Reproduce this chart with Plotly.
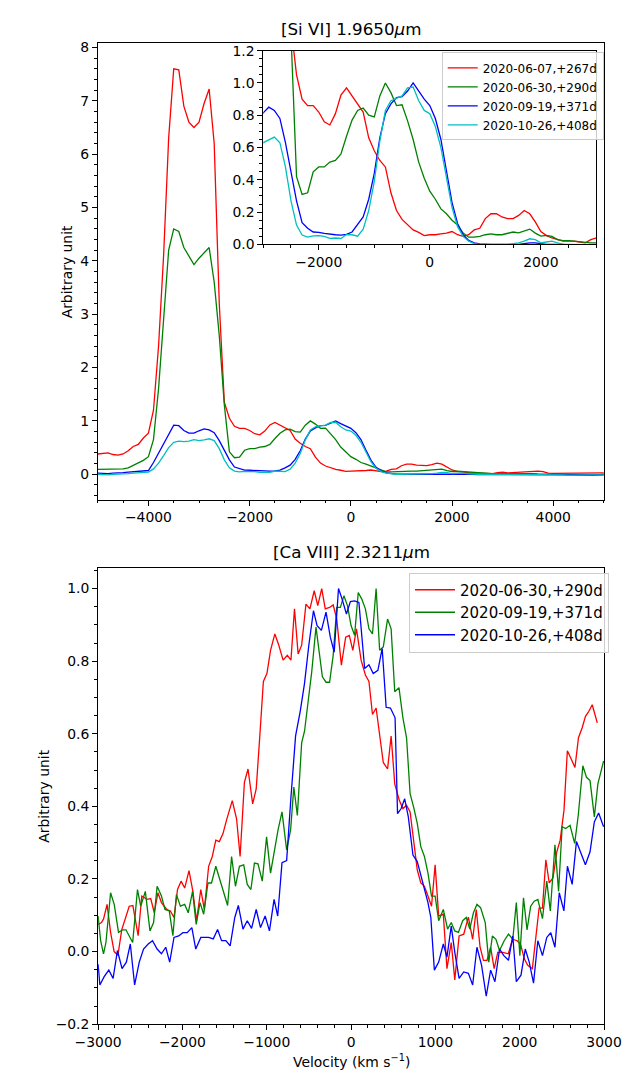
import plotly.graph_objects as go

# ---------------- data: [Si VI] 1.9650 um (top panel + inset) ----------------
V_SI = [-5000, -4900, -4800, -4700, -4600, -4500, -4400, -4300, -4200, -4100,
        -4000, -3900, -3800, -3700, -3600, -3500, -3400, -3300, -3200, -3100,
        -3000, -2900, -2800, -2700, -2600, -2500, -2400, -2300, -2200, -2100,
        -2000, -1900, -1800, -1700, -1600, -1500, -1400, -1300, -1200, -1100,
        -1000, -900, -800, -700, -600, -500, -400, -300, -200, -100,
        0, 100, 200, 300, 400, 500, 600, 700, 800, 900,
        1000, 1100, 1200, 1300, 1400, 1500, 1600, 1700, 1800, 1900,
        2000, 2100, 2200, 2300, 2400, 2500, 2600, 2700, 2800, 2900,
        3000, 3100, 3200, 3300, 3400, 3500, 3600, 3700, 3800, 3900,
        4000, 4100, 4200, 4300, 4400, 4500, 4600, 4700, 4800, 4900,
        5000]

SI_20200607 = [0.38, 0.39, 0.40, 0.37, 0.36, 0.38, 0.44, 0.52, 0.56, 0.68,
               0.77, 1.2, 2.4, 4.1, 6.3, 7.6, 7.58, 6.9, 6.6, 6.5,
               6.6, 6.95, 7.22, 6.2, 3.2, 1.35, 1.05, 0.9, 0.86, 0.86,
               0.82, 0.76, 0.74, 0.81, 0.925, 0.97, 0.92, 0.865, 0.82, 0.66,
               0.58, 0.52, 0.48, 0.32, 0.21, 0.155, 0.125, 0.09, 0.075, 0.055,
               0.06, 0.06, 0.065, 0.07, 0.08, 0.06, 0.05, 0.06, 0.09, 0.10,
               0.16, 0.19, 0.19, 0.17, 0.16, 0.16, 0.18, 0.21, 0.19, 0.14,
               0.08, 0.055, 0.04, 0.03, 0.02, 0.02, 0.02, 0.015, 0.01, 0.03,
               0.04, 0.025, 0.03, 0.035, 0.04, 0.05, 0.055, 0.06, 0.05, 0.02,
               0.015, 0.015, 0.015, 0.015, 0.015, 0.02, 0.02, 0.025, 0.02, 0.02,
               0.025]

SI_20200630 = [0.09, 0.09, 0.09, 0.10, 0.10, 0.10, 0.12, 0.17, 0.22, 0.26,
               0.33, 0.65, 1.6, 3.0, 4.2, 4.6, 4.55, 4.25, 4.1, 3.93,
               4.05, 4.15, 4.25, 3.6, 2.6, 1.3, 0.42, 0.31, 0.32, 0.45,
               0.48, 0.48, 0.51, 0.52, 0.56, 0.67, 0.77, 0.83, 0.845, 0.80,
               0.79, 0.92, 1.0, 0.94, 0.86, 0.865, 0.765, 0.65, 0.51, 0.41,
               0.33, 0.28, 0.22, 0.19, 0.15, 0.12, 0.07, 0.045, 0.045, 0.05,
               0.06, 0.065, 0.06, 0.06, 0.067, 0.077, 0.072, 0.082, 0.095, 0.07,
               0.052, 0.056, 0.05, 0.03, 0.024, 0.024, 0.02, 0.015, 0.012, 0.01,
               0.01, 0.01, 0.015, 0.02, 0.015, 0.01, 0.01, 0.005, 0.0, 0.0,
               0.0, 0.0, -0.005, -0.01, -0.015, -0.02, -0.025, -0.02, -0.02, -0.01,
               0.0]

SI_20200919 = [0.02, 0.015, 0.01, 0.02, 0.02, 0.03, 0.04, 0.05, 0.05, 0.06,
               0.07, 0.22, 0.40, 0.57, 0.76, 0.92, 0.91, 0.82, 0.77, 0.77,
               0.815, 0.85, 0.83, 0.78, 0.63, 0.45, 0.27, 0.135, 0.10, 0.077,
               0.075, 0.068, 0.062, 0.06, 0.058, 0.062, 0.077, 0.12, 0.17, 0.28,
               0.44, 0.66, 0.81, 0.87, 0.91, 0.915, 0.95, 1.0, 0.95, 0.90,
               0.86, 0.78, 0.65, 0.45, 0.26, 0.13, 0.06, 0.025, 0.01, 0.004,
               0.0, 0.0, 0.0, 0.0, 0.0, 0.0, 0.0, 0.005, 0.01, 0.01,
               0.005, 0.0, 0.0, 0.0, 0.0, -0.005, -0.005, -0.005, -0.005, -0.005,
               -0.005, -0.01, -0.01, -0.01, -0.01, -0.01, -0.01, -0.01, -0.01, -0.01,
               -0.01, -0.01, -0.01, -0.01, -0.01, -0.01, -0.01, -0.01, -0.01, -0.01,
               -0.01]

SI_20201026 = [0.0, -0.01, -0.01, 0.0, 0.0, 0.01, 0.01, 0.02, 0.03, 0.03,
               0.04, 0.10, 0.21, 0.35, 0.50, 0.60, 0.62, 0.61, 0.62, 0.65,
               0.63, 0.645, 0.665, 0.63, 0.48, 0.27, 0.12, 0.058, 0.045, 0.053,
               0.055, 0.05, 0.038, 0.04, 0.037, 0.061, 0.06, 0.051, 0.095, 0.21,
               0.39, 0.64, 0.83, 0.89, 0.905, 0.92, 0.97, 0.975, 0.89, 0.83,
               0.81, 0.73, 0.60, 0.41, 0.23, 0.11, 0.05, 0.02, 0.005, 0.0,
               0.0, 0.0, 0.0, 0.0, 0.0, 0.005, 0.01, 0.02, 0.035, 0.03,
               0.01, 0.015, 0.02, 0.01, 0.0, 0.0, 0.0, 0.0, 0.0, 0.0,
               0.0, -0.005, -0.005, -0.005, -0.005, -0.005, -0.005, -0.005, -0.005, -0.005,
               -0.005, -0.01, -0.01, -0.015, -0.015, -0.02, -0.02, -0.02, -0.02, -0.015,
               -0.01]

SI_LABELS = ["2020-06-07,+267d", "2020-06-30,+290d", "2020-09-19,+371d", "2020-10-26,+408d"]
SI_COLORS = ["#ff0000", "#008000", "#0000ff", "#00bfbf"]

# ---------------- data: [Ca VIII] 2.3211 um (bottom panel) ----------------
V_CA_0630 = [-3000, -2960, -2935, -2894, -2852, -2810, -2765, -2720, -2673, -2631,
             -2588, -2525, -2482, -2419, -2376, -2334, -2291, -2249, -2185, -2143,
             -2100, -2058, -2016, -1973, -1922, -1876, -1833, -1782, -1740, -1689,
             -1646, -1604, -1562, -1519, -1477, -1409, -1358, -1316, -1265, -1222,
             -1167, -1125, -1082, -1040, -998, -955, -904, -857, -806, -756,
             -713, -671, -628, -586, -535, -488, -437, -395, -348, -306,
             -255, -212, -170, -115, -64, -21, 21, 64, 119, 170,
             212, 254, 297, 339, 382, 433, 475, 518, 573, 615,
             658, 700, 742, 785, 827, 870, 912, 954, 997, 1039,
             1094, 1137, 1188, 1230, 1281, 1336, 1391, 1442, 1485, 1530,
             1570, 1612, 1655, 1697, 1740, 1800, 1865, 1915, 1970, 2010,
             2055, 2095, 2150, 2190, 2230, 2270, 2310, 2350, 2395, 2440,
             2480, 2525, 2565, 2612, 2655, 2697, 2740, 2780, 2820, 2860,
             2920]
CA_20200630 = [0.075, 0.08, 0.09, 0.13, 0.053, 0.0, -0.01, 0.06, 0.094, 0.125,
               0.127, 0.044, 0.153, 0.144, 0.146, 0.107, 0.162, 0.135, 0.116, 0.112,
               0.094, 0.171, 0.194, 0.175, 0.223, 0.166, 0.085, 0.171, 0.116, 0.235,
               0.262, 0.307, 0.303, 0.325, 0.362, 0.416, 0.366, 0.262, 0.466, 0.503,
               0.407, 0.448, 0.595, 0.744, 0.766, 0.83, 0.875, 0.844, 0.803, 0.816,
               0.803, 0.944, 0.82, 0.844, 0.957, 0.944, 0.994, 0.953, 1.0, 0.944,
               0.948, 0.955, 0.916, 0.789, 0.866, 0.871, 0.83, 0.889, 0.803, 0.762,
               0.744, 0.653, 0.671, 0.598, 0.521, 0.503, 0.594, 0.462, 0.416, 0.394,
               0.403, 0.385, 0.298, 0.225, 0.189, 0.18, 0.153, 0.125, 0.239, 0.098,
               0.103, -0.047, 0.025, -0.078, 0.043, 0.048, 0.095, 0.034, 0.116, 0.012,
               -0.024, -0.024, 0.012, -0.047, -0.002, -0.002, -0.006, 0.034, 0.03, 0.02,
               -0.02, -0.038, -0.047, 0.034, 0.12, 0.12, 0.253, 0.189, 0.203, 0.275,
               0.307, 0.389, 0.553, 0.53, 0.507, 0.589, 0.616, 0.648, 0.662, 0.68,
               0.63]

V_CA_0919 = [-3000, -2970, -2936, -2907, -2852, -2809, -2758, -2707, -2670, -2631,
             -2590, -2533, -2495, -2440, -2385, -2342, -2300, -2249, -2207, -2156,
             -2113, -2071, -2024, -1973, -1931, -1880, -1837, -1791, -1748, -1697,
             -1655, -1604, -1557, -1506, -1464, -1417, -1371, -1324, -1273, -1231,
             -1188, -1146, -1104, -1053, -1002, -955, -908, -866, -819, -764,
             -717, -679, -637, -586, -552, -510, -467, -416, -382, -340,
             -297, -255, -212, -170, -127, -85, -43, 0, 42, 85,
             127, 170, 212, 254, 297, 339, 382, 433, 475, 518,
             568, 615, 658, 700, 742, 785, 827, 870, 912, 954,
             997, 1039, 1094, 1145, 1188, 1230, 1273, 1324, 1366, 1408,
             1451, 1493, 1536, 1591, 1633, 1676, 1718, 1761, 1816, 1867,
             1918, 1960, 2002, 2045, 2087, 2130, 2172, 2215, 2270, 2321,
             2363, 2418, 2461, 2503, 2546, 2597, 2652, 2694, 2749, 2792,
             2834, 2885, 2927, 2995]
CA_20200919 = [0.098, 0.03, -0.006, 0.025, 0.162, 0.13, 0.053, 0.06, 0.06, 0.044,
               0.025, 0.171, 0.125, 0.166, 0.057, 0.08, 0.18, 0.153, 0.116, 0.112,
               0.044, 0.157, 0.125, 0.13, 0.107, 0.166, 0.075, 0.135, 0.103, 0.189,
               0.189, 0.235, 0.198, 0.153, 0.127, 0.262, 0.18, 0.235, 0.239, 0.185,
               0.171, 0.244, 0.242, 0.194, 0.316, 0.216, 0.28, 0.335, 0.385, 0.28,
               0.335, 0.453, 0.375, 0.575, 0.607, 0.68, 0.77, 0.894, 0.835, 0.757,
               0.742, 0.742, 0.816, 0.948, 0.948, 0.98, 0.953, 0.898, 0.871, 0.989,
               0.971, 0.944, 0.889, 0.875, 1.0, 0.83, 0.839, 0.916, 0.889, 0.716,
               0.727, 0.644, 0.589, 0.435, 0.398, 0.353, 0.289, 0.262, 0.216, 0.153,
               0.153, 0.085, 0.116, 0.062, 0.08, 0.057, 0.053, 0.085, 0.094, 0.062,
               0.107, 0.13, 0.121, 0.08, -0.029, 0.043, 0.034, 0.003, 0.03, 0.048,
               0.034, 0.135, -0.011, 0.148, 0.06, 0.125, 0.139, 0.144, 0.091, 0.194,
               0.112, 0.294, 0.166, 0.344, 0.339, 0.348, 0.298, 0.375, 0.512, 0.48,
               0.471, 0.371, 0.462, 0.525]

V_CA_1026 = [-3000, -2979, -2928, -2873, -2822, -2771, -2716, -2665, -2618, -2567,
             -2512, -2461, -2406, -2355, -2300, -2249, -2198, -2151, -2100, -2045,
             -1994, -1943, -1888, -1842, -1782, -1740, -1689, -1634, -1583, -1536,
             -1485, -1434, -1379, -1337, -1282, -1231, -1180, -1125, -1074, -1019,
             -968, -913, -870, -819, -764, -713, -658, -603, -552, -501,
             -446, -403, -352, -297, -246, -200, -149, -106, -55, -8,
             42, 93, 161, 212, 263, 318, 369, 416, 467, 522,
             551, 594, 636, 679, 734, 785, 827, 870, 912, 946,
             988, 1039, 1094, 1137, 1188, 1230, 1281, 1336, 1391, 1442,
             1493, 1548, 1603, 1655, 1706, 1761, 1812, 1867, 1918, 1960,
             2015, 2066, 2113, 2164, 2215, 2270, 2321, 2368, 2418, 2469,
             2524, 2566, 2622, 2673, 2724, 2779, 2834, 2885, 2936, 2995]
CA_20201026 = [-0.035, -0.092, -0.069, -0.051, -0.074, 0.003, -0.047, -0.029, 0.021, -0.092,
               -0.029, 0.007, 0.021, 0.03, 0.007, -0.006, 0.012, -0.029, 0.039, 0.043,
               0.052, 0.052, 0.066, 0.007, 0.039, 0.039, 0.039, 0.035, 0.061, 0.03,
               0.03, 0.016, 0.094, 0.127, 0.062, 0.085, 0.064, 0.116, 0.066, 0.098,
               0.057, 0.144, 0.098, 0.245, 0.251, 0.425, 0.594, 0.662, 0.739, 0.844,
               0.939, 0.898, 0.885, 0.935, 0.866, 0.825, 1.0, 0.971, 0.93, 0.964,
               0.966, 0.962, 0.78, 0.79, 0.766, 0.775, 0.835, 0.673, 0.671, 0.644,
               0.38, 0.394, 0.421, 0.371, 0.266, 0.248, 0.212, 0.171, 0.135, 0.094,
               -0.051, -0.029, 0.021, -0.015, 0.07, -0.002, -0.074, -0.056, -0.06, -0.092,
               0.012, -0.038, -0.123, -0.051, -0.083, 0.007, -0.011, -0.024, 0.043, -0.083,
               -0.065, 0.007, -0.029, -0.087, 0.03, -0.011, 0.039, 0.052, 0.012, 0.162,
               0.112, 0.235, 0.185, 0.303, 0.271, 0.239, 0.275, 0.357, 0.382, 0.344]

CA_LABELS = ["2020-06-30,+290d", "2020-09-19,+371d", "2020-10-26,+408d"]
CA_COLORS = ["#ff0000", "#008000", "#0000ff"]

# ---------------- figure ----------------
W, H = 641, 1079
FONT = "DejaVu Sans"
LW = 1.3


def fx(p):
    return p / W


def fy(p):
    return 1 - p / H


fig = go.Figure()

si_series = [SI_20200607, SI_20200630, SI_20200919, SI_20201026]
for lab, ys, col in zip(SI_LABELS, si_series, SI_COLORS):
    fig.add_trace(go.Scatter(x=V_SI, y=ys, mode="lines", line=dict(color=col, width=LW),
                             xaxis="x", yaxis="y", showlegend=False, hoverinfo="skip"))
for lab, ys, col in zip(SI_LABELS, si_series, SI_COLORS):
    fig.add_trace(go.Scatter(x=V_SI, y=ys, mode="lines", line=dict(color=col, width=LW),
                             xaxis="x2", yaxis="y2", name=lab, legend="legend", hoverinfo="skip"))

ca_v = [V_CA_0630, V_CA_0919, V_CA_1026]
ca_series = [CA_20200630, CA_20200919, CA_20201026]
for lab, vs, ys, col in zip(CA_LABELS, ca_v, ca_series, CA_COLORS):
    fig.add_trace(go.Scatter(x=vs, y=ys, mode="lines", line=dict(color=col, width=LW),
                             xaxis="x3", yaxis="y3", name=lab, legend="legend2", hoverinfo="skip"))


def axis(**kw):
    d = dict(showline=True, linecolor="black", linewidth=1.1, mirror=True,
             ticks="outside", ticklen=4.9, tickwidth=1.1, tickcolor="black",
             showgrid=False, zeroline=False,
             tickfont=dict(family=FONT, size=13.9, color="black"))
    d.update(kw)
    return d


def minor(dt):
    return dict(ticks="outside", ticklen=2.8, tickwidth=0.8, tickcolor="black",
                dtick=dt, tick0=0, showgrid=False)


fig.update_layout(
    width=W, height=H, margin=dict(l=0, r=0, t=0, b=0),
    paper_bgcolor="white", plot_bgcolor="white",
    font=dict(family=FONT, color="black"),
    xaxis=axis(domain=[fx(79), fx(620.5)], range=[-5000, 5000],
               tickvals=[-4000, -2000, 0, 2000, 4000], minor=minor(500), anchor="y"),
    yaxis=axis(domain=[fy(499), fy(35.7)], range=[-0.475, 8.08],
               tickvals=[0, 1, 2, 3, 4, 5, 6, 7, 8], minor=minor(0.2), anchor="x"),
    xaxis2=axis(domain=[fx(256), fx(612.5)], range=[-3000, 3000],
                tickvals=[-2000, 0, 2000], minor=minor(500), anchor="y2"),
    yaxis2=axis(domain=[fy(240), fy(43.3)], range=[0, 1.2],
                tickvals=[0, 0.2, 0.4, 0.6, 0.8, 1.0, 1.2], tickformat=".1f",
                minor=minor(0.05), anchor="x2"),
    xaxis3=axis(domain=[fx(79.3), fx(620.7)], range=[-3000, 3000],
                tickvals=[-3000, -2000, -1000, 0, 1000, 2000, 3000], minor=minor(200), anchor="y3"),
    yaxis3=axis(domain=[fy(1031.5), fy(568.3)], range=[-0.2, 1.057],
                tickvals=[-0.2, 0, 0.2, 0.4, 0.6, 0.8, 1.0], tickformat=".1f",
                minor=minor(0.05), anchor="x3"),
    legend=dict(x=fx(447), y=fy(45), xanchor="left", yanchor="top",
                bgcolor="rgba(255,255,255,0.8)", bordercolor="#cccccc", borderwidth=1,
                font=dict(family=FONT, size=12, color="black"), tracegroupgap=0),
    legend2=dict(x=fx(412), y=fy(573), xanchor="left", yanchor="top", itemwidth=40,
                 bgcolor="rgba(255,255,255,0.8)", bordercolor="#cccccc", borderwidth=1,
                 font=dict(family=FONT, size=15, color="black"), tracegroupgap=0),
    showlegend=True,
)

ann = [
    dict(text="[Si VI] 1.9650<i>μ</i>m", x=fx(349.75), y=fy(21), size=16.7, angle=0),
    dict(text="[Ca VIII] 2.3211<i>μ</i>m", x=fx(350), y=fy(552.5), size=16.7, angle=0),
    dict(text="Arbitrary unit", x=fx(47), y=fy(267.4), size=13.9, angle=-90),
    dict(text="Arbitrary unit", x=fx(22), y=fy(800), size=13.9, angle=-90),
    dict(text="Velocity (km s<sup>−1</sup>)", x=fx(350), y=fy(1069), size=13.9, angle=0),
]
for a in ann:
    fig.add_annotation(text=a["text"], x=a["x"], y=a["y"], xref="paper", yref="paper",
                       xanchor="center", yanchor="middle", showarrow=False, textangle=a["angle"],
                       font=dict(family=FONT, size=a["size"], color="black"))

fig.write_html("out.html")
